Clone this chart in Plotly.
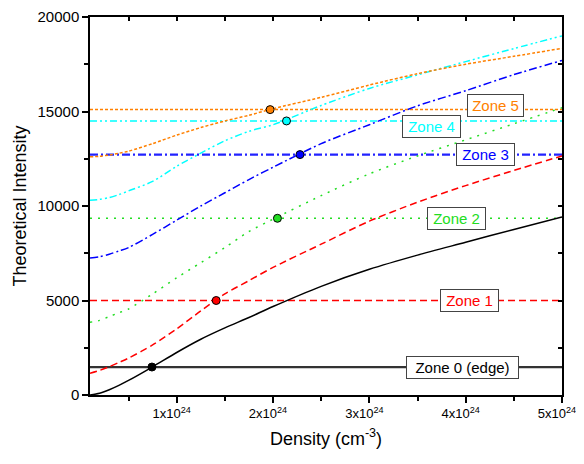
import plotly.graph_objects as go

# Density grid (units of 1e24 cm^-3)
density = [0.1, 0.2, 0.3, 0.4, 0.5, 0.75, 1.0, 1.25, 1.5, 1.75, 2.0, 2.5, 3.0, 3.5, 4.0, 4.5, 5.0]

zone0_curve = [0, 90, 280, 510, 770, 1490, 2250, 2950, 3550, 4100, 4680, 5750, 6650, 7400, 8080, 8760, 9420]
zone1_curve = [1150, 1300, 1500, 1720, 1950, 2650, 3500, 4450, 5350, 6050, 6750, 7980, 9200, 10200, 11080, 11880, 12650]
zone2_curve = [3850, 3950, 4150, 4350, 4550, 5350, 6200, 7000, 7800, 8650, 9300, 10550, 11700, 12650, 13500, 14350, 15200]
zone3_curve = [7250, 7320, 7450, 7620, 7800, 8500, 9250, 10000, 10700, 11400, 12050, 13300, 14300, 15300, 16100, 16950, 17700]
zone4_curve = [10300, 10350, 10450, 10600, 10800, 11300, 12100, 12800, 13450, 13950, 14300, 15320, 16220, 16940, 17640, 18330, 19000]
zone5_curve = [12600, 12630, 12700, 12790, 12900, 13300, 13750, 14150, 14500, 14800, 15150, 15750, 16400, 17000, 17500, 17920, 18340]

zone_levels = [1480, 5000, 9350, 12720, 14500, 15100]
match_density = [0.743, 1.41, 2.046, 2.28, 2.14, 1.97]
zone_labels = ["Zone 0 (edge)", "Zone 1", "Zone 2", "Zone 3", "Zone 4", "Zone 5"]
label_x = [3.97, 4.04, 3.90, 4.21, 3.65, 4.31]
label_y = [1480, 5000, 9350, 12700, 14190, 15300]

x_tickvals = [1, 2, 3, 4, 5]
x_ticktext = ["1x10<sup>24</sup>", "2x10<sup>24</sup>", "3x10<sup>24</sup>", "4x10<sup>24</sup>", "5x10<sup>24</sup>"]

curves = [zone0_curve, zone1_curve, zone2_curve, zone3_curve, zone4_curve, zone5_curve]
colors = ["#000000", "#FF0000", "#22DD22", "#0000FF", "#00FFFF", "#FF8000"]
dashes = ["solid", "7px,4px", "2px,6px", "8px,3px,2px,3px", "7px,3px,2px,3px,2px,3px", "3px,2px"]
hwidths = [2.2, 1.5, 1.5, 2.2, 1.5, 1.5]
hcolors = ["#333333", "#FF0000", "#22DD22", "#2222FF", "#00FFFF", "#FF8000"]
label_widths = [107, 53, 53, 53, 53, 51]

fig = go.Figure()

for i in range(6):
    fig.add_trace(go.Scatter(x=[density[0] * 1e24, density[-1] * 1e24], y=[zone_levels[i]] * 2,
                             mode="lines", line=dict(color=hcolors[i], width=hwidths[i], dash=dashes[i]),
                             showlegend=False, hoverinfo="skip"))

for i in range(6):
    fig.add_trace(go.Scatter(x=[d * 1e24 for d in density], y=curves[i], mode="lines",
                             line=dict(color=colors[i], width=1.5, dash=dashes[i], shape="spline",
                                       smoothing=0.8),
                             showlegend=False))

for i in range(6):
    fig.add_trace(go.Scatter(x=[match_density[i] * 1e24], y=[zone_levels[i]], mode="markers",
                             marker=dict(color=colors[i], size=8, line=dict(color="#000000", width=1)),
                             showlegend=False))

for i in range(6):
    fig.add_annotation(x=label_x[i] * 1e24, y=label_y[i], text=zone_labels[i], showarrow=False,
                       font=dict(size=15, color=colors[i] if i != 0 else "#000000"),
                       width=label_widths[i], align="center",
                       bgcolor="white", bordercolor="#444444", borderwidth=1, borderpad=2)

# invisible trace for mirrored axes with inward ticks
fig.add_trace(go.Scatter(x=[0.1e24], y=[0], xaxis="x2", yaxis="y2", mode="markers",
                         marker=dict(opacity=0), showlegend=False, hoverinfo="skip"))

font_family = "Arial, Liberation Sans, sans-serif"
fig.update_layout(
    width=576, height=456,
    margin=dict(l=82, r=22, t=9, b=69),
    plot_bgcolor="white", paper_bgcolor="white",
    font=dict(family=font_family, size=14, color="black"),
    xaxis=dict(range=[0.1e24, 5e24], tickmode="array", tickvals=[v * 1e24 for v in x_tickvals],
               ticktext=x_ticktext, ticks="outside", ticklen=6, tickwidth=1.5, tickcolor="black",
               showline=True, linecolor="black", linewidth=1.5, showgrid=False, zeroline=False,
               automargin=False, ticklabeloverflow="allow", ticklabelshift=-5,
               minor=dict(tickmode="linear", tick0=0, dtick=0.5e24, ticks="outside", ticklen=4,
                          tickwidth=1.5, tickcolor="black"),
               title=dict(text="Density (cm<sup>-3</sup>)", font=dict(size=18), standoff=12),
               tickfont=dict(size=13)),
    yaxis=dict(range=[0, 20000], tickmode="linear", tick0=0, dtick=5000, tickformat="d",
               ticks="outside", ticklen=6, tickwidth=1.5, tickcolor="black",
               showline=True, linecolor="black", linewidth=1.5, showgrid=False, zeroline=False,
               automargin=False, ticklabeloverflow="allow",
               minor=dict(tickmode="linear", tick0=0, dtick=2500, ticks="outside", ticklen=4,
                          tickwidth=1.5, tickcolor="black"),
               title=dict(text="Theoretical Intensity", font=dict(size=18), standoff=6),
               tickfont=dict(size=15)),
    xaxis2=dict(range=[0.1e24, 5e24], overlaying="x", side="top", anchor="y2",
                showticklabels=False, ticks="inside", ticklen=4, tickwidth=1.5, tickcolor="black",
                tickmode="linear", tick0=0, dtick=0.5e24, showline=True, linecolor="black",
                linewidth=1.5, showgrid=False, zeroline=False, automargin=False),
    yaxis2=dict(range=[0, 20000], overlaying="y", side="right", anchor="x2",
                showticklabels=False, ticks="inside", ticklen=4, tickwidth=1.5, tickcolor="black",
                tickmode="linear", tick0=0, dtick=2500, showline=True, linecolor="black",
                linewidth=1.5, showgrid=False, zeroline=False, automargin=False),
)

fig.write_html("out.html")
